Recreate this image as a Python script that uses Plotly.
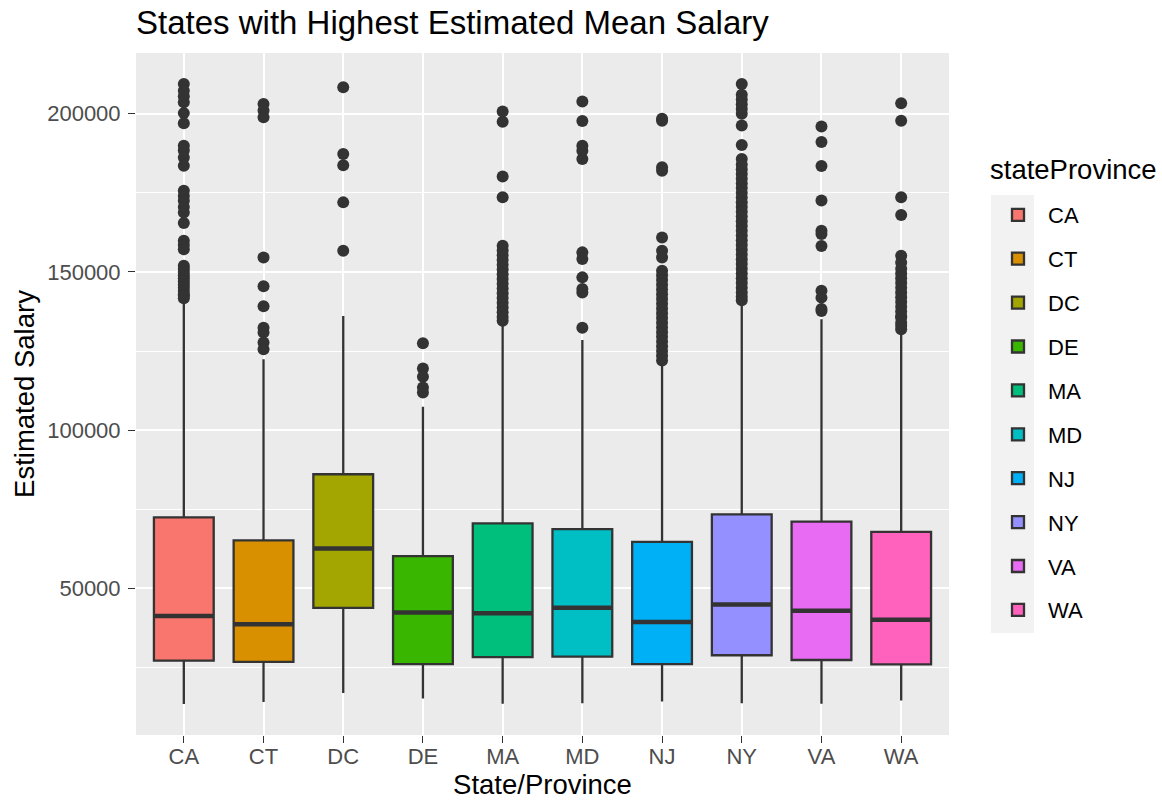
import plotly.graph_objects as go

states = ["CA", "CT", "DC", "DE", "MA", "MD", "NJ", "NY", "VA", "WA"]
fill_colors = ["#F8766D", "#D89000", "#A3A500", "#39B600", "#00BF7D",
               "#00BFC4", "#00B0F6", "#9590FF", "#E76BF3", "#FF62BC"]

q1 = [27200, 26800, 43900, 26100, 28300, 28500, 26100, 28900, 27400, 26000]
median = [41300, 38700, 62600, 42400, 42200, 43900, 39400, 44900, 43000, 40100]
q3 = [72450, 65200, 86100, 60200, 70550, 68750, 64700, 73400, 71100, 67900]
lower_whisker = [13500, 14100, 17000, 15200, 13600, 13700, 14300, 13700, 13600, 14600]
upper_whisker = [140500, 122400, 136100, 107400, 133000, 128500, 121400, 140000, 135100, 130400]

out_CA = [209400, 207300, 205500, 203600, 200200, 197000, 189900, 188500, 186200, 183600,
          175700, 174000, 172500, 170500, 168800, 165500, 159900, 158500, 157200, 152000,
          151000, 150000, 149000, 148000, 147000, 146000, 145000, 144000, 143000, 142500, 141700]
out_CT = [203100, 201000, 198900, 154600, 145500, 139200, 132400, 130900, 127700, 125600]
out_DC = [208400, 187300, 183700, 172000, 156700]
out_DE = [127500, 119500, 116900, 113500, 111900]
out_MA = [200700, 197500, 180200, 173600, 158300, 156800, 155300, 153800, 152300, 150800,
          149300, 147800, 146300, 144800, 143300, 141800, 140300, 138800, 137300, 135800, 134600]
out_MD = [203900, 197700, 189900, 188300, 185700, 156200, 154100, 148300, 144600, 143500, 132400]
out_NJ = [198400, 197800, 183100, 182000, 160900, 156700, 154600, 150400, 149000, 147500,
          146000, 144500, 143000, 141500, 140000, 138500, 137000, 135500, 134000, 132500,
          131000, 129500, 128000, 126500, 125000, 123500, 122000]
out_NY = [209400, 206000, 204500, 203000, 201500, 200000, 196300, 190100, 185700, 184000,
          182500, 181000, 179500, 178000, 176500, 175000, 173500, 172000, 170500, 169000,
          167500, 166000, 164500, 163000, 161500, 160000, 158500, 157000, 155500, 154000,
          152500, 151000, 149500, 148000, 146500, 145000, 143500, 142200, 141100]
out_VA = [196000, 191100, 183500, 172600, 163000, 162000, 158200, 144100, 141900, 138300, 137700]
out_WA = [203300, 197800, 173600, 168000, 155100, 153000, 151000, 149500, 148000, 146500,
          145000, 143500, 142000, 140500, 139000, 137500, 136000, 135600, 134000, 133000, 131900]
outliers = [out_CA, out_CT, out_DC, out_DE, out_MA, out_MD, out_NJ, out_NY, out_VA, out_WA]

y_ticks = [50000, 100000, 150000, 200000]
y_minor = [25000, 75000, 125000, 175000]

INK = "#333333"
BOX_W = 0.75
W, H = 1162, 800
ML, MR, MT, MB = 136, 213, 53, 65
PW, PH = W - ML - MR, H - MT - MB


def px_x(p):
    return (p - ML) / PW


def px_y(p):
    return 1 - (p - MT) / PH


fig = go.Figure()
xpos = list(range(1, len(states) + 1))

for i, st in enumerate(states):
    fig.add_trace(go.Box(
        x=[xpos[i]], q1=[q1[i]], median=[median[i]], q3=[q3[i]],
        lowerfence=[lower_whisker[i]], upperfence=[upper_whisker[i]],
        width=BOX_W, fillcolor=fill_colors[i], line=dict(color=INK, width=2.3),
        boxpoints=False, name=st, legendgroup=st, showlegend=True,
        whiskerwidth=0,
    ))

for i, st in enumerate(states):
    fig.add_trace(go.Scatter(
        x=[xpos[i] - BOX_W / 2, xpos[i] + BOX_W / 2], y=[median[i], median[i]],
        mode="lines", line=dict(color=INK, width=4.5), showlegend=False,
        hoverinfo="skip", legendgroup=st,
    ))
    fig.add_trace(go.Scatter(
        x=[xpos[i]] * len(outliers[i]), y=outliers[i], mode="markers",
        marker=dict(color=INK, size=12), showlegend=False, legendgroup=st,
    ))

all_vals = lower_whisker + [v for o in outliers for v in o] + upper_whisker
ymin, ymax = min(all_vals), max(all_vals)
pad = (ymax - ymin) * 0.05

fig.update_layout(
    width=W, height=H,
    margin=dict(l=ML, r=MR, t=MT, b=MB, autoexpand=False),
    paper_bgcolor="white", plot_bgcolor="#EBEBEB",
    font=dict(family="Liberation Sans, Arial, sans-serif", color="black"),
    title=dict(text="States with Highest Estimated Mean Salary", x=0, xref="paper",
               xanchor="left", y=1 - 11 / H, yanchor="top", automargin=False,
               font=dict(size=33, color="black")),
    showlegend=True,
    legend=dict(font=dict(size=22), x=px_x(988), xanchor="left", y=px_y(194),
                yanchor="top", tracegroupgap=12.3, bgcolor="rgba(0,0,0,0)",
                itemwidth=50),
    shapes=[dict(type="rect", xref="paper", yref="paper", x0=px_x(991), x1=px_x(1034),
                 y0=px_y(195), y1=px_y(633), fillcolor="#F2F2F2", line=dict(width=0),
                 layer="below")],
    annotations=[dict(text="stateProvince", xref="paper", yref="paper", x=px_x(988),
                      y=px_y(170), xanchor="left", yanchor="middle", showarrow=False,
                      font=dict(size=27.5, color="black"))],
    xaxis=dict(range=[0.4, len(states) + 0.6], tickvals=xpos, ticktext=states,
               showgrid=True, gridcolor="white", gridwidth=2.2, zeroline=False,
               ticks="outside", ticklen=7, tickwidth=1.3, tickcolor=INK,
               ticklabelstandoff=-5, automargin=False,
               tickfont=dict(size=22, color="#4D4D4D"),
               title=dict(text="State/Province", font=dict(size=27.5), standoff=5),
               showline=False),
    yaxis=dict(range=[ymin - pad, ymax + pad], tickvals=y_ticks,
               ticktext=[str(v) for v in y_ticks],
               showgrid=True, gridcolor="white", gridwidth=2.2, zeroline=False,
               ticks="outside", ticklen=7, tickwidth=1.3, tickcolor=INK,
               ticklabelstandoff=3, automargin=False,
               tickfont=dict(size=22, color="#4D4D4D"),
               minor=dict(tickvals=y_minor, showgrid=True, gridcolor="white",
                          gridwidth=1.1, ticks=""),
               title=dict(text="Estimated Salary", font=dict(size=27.5), standoff=4),
               showline=False),
)

fig.write_html("out.html", post_script="document.body.style.margin='0px';",
               config={"displayModeBar": False})
